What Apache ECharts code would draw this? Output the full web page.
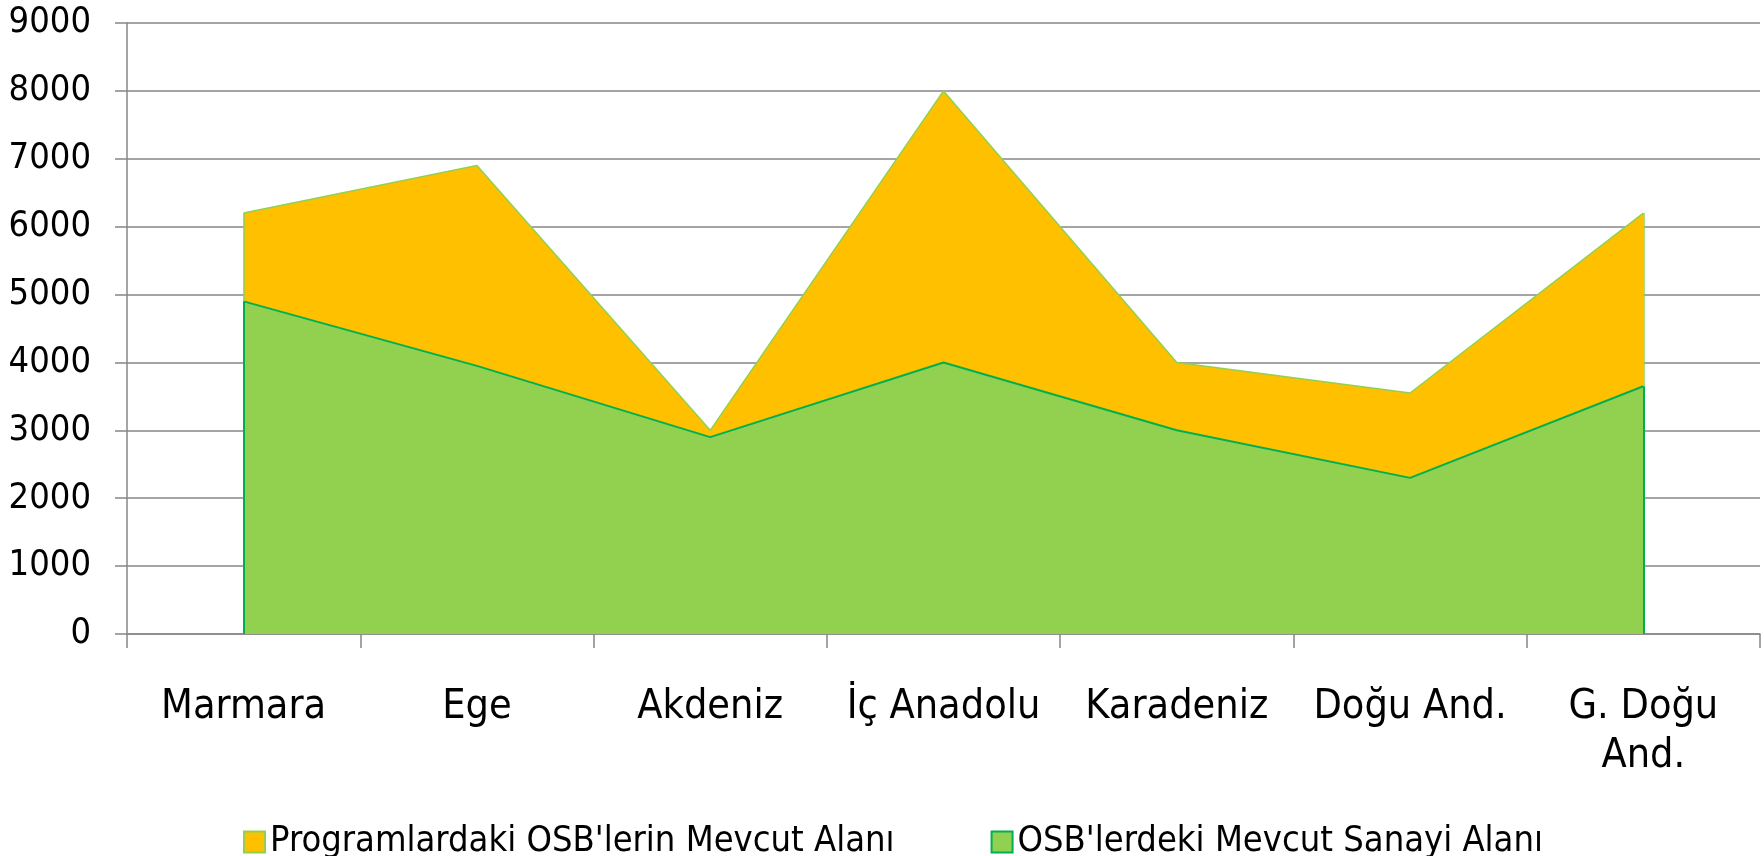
<!DOCTYPE html>
<html>
<head>
<meta charset="utf-8">
<script src="https://cdn.jsdelivr.net/npm/echarts@6/dist/echarts.min.js"></script>
<style>
html,body{margin:0;padding:0;background:#fff;}
#chart{width:1764px;height:856px;}
</style>
</head>
<body>
<div id="chart"></div>
<script>
var categories = ['Marmara', 'Ege', 'Akdeniz', 'İç Anadolu', 'Karadeniz', 'Doğu And.', 'G. Doğu And.'];
var programlardakiAlan = [6200, 6900, 3000, 8000, 4000, 3550, 6200];
var mevcutSanayiAlani = [4900, 3950, 2900, 4000, 3000, 2300, 3650];
var seriesNames = ["Programlardaki OSB'lerin Mevcut Alanı", "OSB'lerdeki Mevcut Sanayi Alanı"];
var yTicks = {min: 0, max: 9000, interval: 1000};

var FONT = '"DejaVu Sans Condensed", "DejaVu Sans", sans-serif';
var GRID = '#878787';

function edgeLines(values, color, width) {
  var last = values.length - 1;
  return {
    symbol: ['none', 'none'],
    silent: true,
    label: {show: false},
    emphasis: {disabled: true},
    lineStyle: {color: color, width: width, type: 'solid'},
    data: [
      [{coord: [categories[0], 0]}, {coord: [categories[0], values[0]]}],
      [{coord: [categories[last], 0]}, {coord: [categories[last], values[last]]}]
    ]
  };
}

function wrapLong(v) {
  if (v.length > 10) {
    var i = v.lastIndexOf(' ');
    if (i > 0) return v.slice(0, i) + '\n' + v.slice(i + 1);
  }
  return v;
}

var chart = echarts.init(document.getElementById('chart'), null, {renderer: 'canvas'});
chart.setOption({
  animation: false,
  backgroundColor: '#ffffff',
  textStyle: {fontFamily: FONT},
  grid: {left: 127, right: 4, top: 23, bottom: 222, outerBoundsMode: 'none'},
  legend: {
    top: 819,
    left: 238,
    itemWidth: 21,
    itemHeight: 21,
    itemGap: 96,
    icon: 'rect',
    textStyle: {fontFamily: FONT, fontSize: 36, lineHeight: 36, color: '#000'},
    data: [
      {name: seriesNames[0], itemStyle: {color: '#FFC000', borderColor: '#92D050', borderWidth: 2}},
      {name: seriesNames[1], itemStyle: {color: '#92D050', borderColor: '#00B050', borderWidth: 2}}
    ]
  },
  xAxis: {
    type: 'category',
    data: categories,
    boundaryGap: true,
    axisLine: {show: true, lineStyle: {color: GRID, width: 1.5}},
    axisTick: {show: true, length: 14, lineStyle: {color: GRID, width: 1.5}},
    axisLabel: {
      interval: 0,
      fontFamily: FONT,
      fontSize: 41,
      lineHeight: 49,
      color: '#000',
      margin: 49,
      align: 'center',
      formatter: wrapLong
    },
    splitLine: {show: false}
  },
  yAxis: {
    type: 'value',
    min: yTicks.min,
    max: yTicks.max,
    interval: yTicks.interval,
    axisLine: {show: true, lineStyle: {color: GRID, width: 1.5}},
    axisTick: {show: true, length: 12, lineStyle: {color: GRID, width: 1.5}},
    axisLabel: {fontFamily: FONT, fontSize: 36, color: '#000', margin: 36,
      formatter: function (v) { return String(v); }},
    splitLine: {show: true, lineStyle: {color: GRID, width: 1.5}}
  },
  series: [
    {
      name: seriesNames[0],
      type: 'line',
      data: programlardakiAlan,
      symbol: 'none',
      lineStyle: {color: '#92D050', width: 1.5},
      itemStyle: {color: '#FFC000'},
      areaStyle: {color: '#FFC000', opacity: 1},
      markLine: edgeLines(programlardakiAlan, '#92D050', 1.5)
    },
    {
      name: seriesNames[1],
      type: 'line',
      data: mevcutSanayiAlani,
      symbol: 'none',
      lineStyle: {color: '#00B050', width: 2},
      itemStyle: {color: '#92D050'},
      areaStyle: {color: '#92D050', opacity: 1},
      markLine: edgeLines(mevcutSanayiAlani, '#00B050', 2)
    }
  ]
});
</script>
</body>
</html>
